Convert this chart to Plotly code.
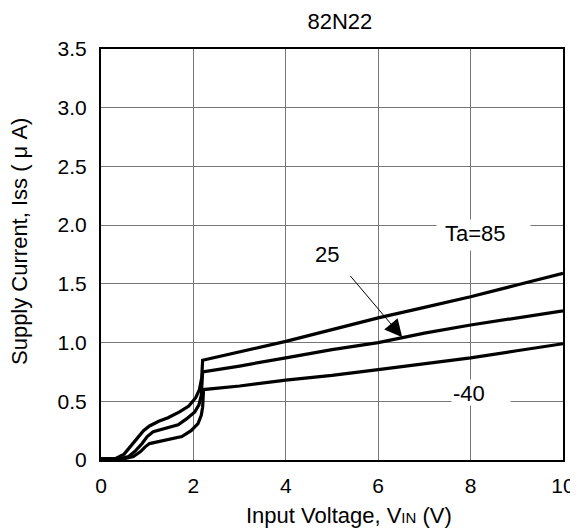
import plotly.graph_objects as go

# Data
vin_85 = [0, 0.3, 0.5, 0.65, 0.8, 0.92, 1.05, 1.25, 1.45, 1.7, 1.9, 2.05, 2.13, 2.18, 2.2,
          3, 4, 5, 6, 7, 8, 9, 10]
iss_85 = [0.01, 0.01, 0.05, 0.12, 0.19, 0.25, 0.29, 0.33, 0.36, 0.41, 0.46, 0.53, 0.60, 0.70, 0.85,
          0.92, 1.01, 1.11, 1.21, 1.30, 1.39, 1.49, 1.59]

vin_25 = [0, 0.4, 0.6, 0.75, 0.89, 1.0, 1.13, 1.3, 1.5, 1.67, 1.85, 2.03, 2.12, 2.17, 2.2,
          3, 4, 5, 6, 7, 8, 9, 10]
iss_25 = [0.01, 0.01, 0.03, 0.08, 0.14, 0.20, 0.24, 0.26, 0.28, 0.30, 0.35, 0.41, 0.47, 0.55, 0.75,
          0.80, 0.87, 0.94, 1.00, 1.08, 1.15, 1.21, 1.27]

vin_m40 = [0, 0.5, 0.7, 0.85, 0.95, 1.05, 1.17, 1.4, 1.6, 1.75, 1.95, 2.1, 2.17, 2.2, 2.22,
           3, 4, 5, 6, 7, 8, 9, 10]
iss_m40 = [0.01, 0.01, 0.03, 0.07, 0.11, 0.14, 0.15, 0.17, 0.19, 0.20, 0.25, 0.31, 0.38, 0.45, 0.60,
           0.63, 0.68, 0.72, 0.77, 0.82, 0.87, 0.93, 0.99]

x_ticks = [0, 2, 4, 6, 8, 10]
x_ticktext = ["0", "2", "4", "6", "8", "10"]
y_ticks = [0, 0.5, 1.0, 1.5, 2.0, 2.5, 3.0, 3.5]
y_ticktext = ["0", "0.5", "1.0", "1.5", "2.0", "2.5", "3.0", "3.5"]

FONT = "Liberation Sans, Arial, sans-serif"
TICK = 21
TXT = 22

fig = go.Figure()
for xs, ys in [(vin_85, iss_85), (vin_25, iss_25), (vin_m40, iss_m40)]:
    fig.add_trace(go.Scatter(x=xs, y=ys, mode="lines",
                             line=dict(color="black", width=3.2),
                             showlegend=False, hoverinfo="skip"))

# the page body adds an 8px offset, so the figure is 8px smaller than the window
fig.update_layout(
    width=570, height=524,
    margin=dict(l=93, r=15, t=41, b=72, autoexpand=False),
    paper_bgcolor="white", plot_bgcolor="white",
    font=dict(family=FONT, size=TICK, color="black"),
    title=dict(text="82N22", x=0.517, xref="paper", xanchor="center",
               y=0.975, yref="container", yanchor="middle",
               font=dict(family=FONT, size=TXT, color="black")),
    xaxis=dict(range=[0, 10], tickvals=x_ticks, ticktext=x_ticktext,
               showgrid=True, gridcolor="#777777", gridwidth=1,
               showline=True, linecolor="black", linewidth=2, mirror=True,
               zeroline=False, ticks="", tickfont=dict(size=TICK),
               ticklabelstandoff=6, automargin=False),
    yaxis=dict(range=[0, 3.5], tickvals=y_ticks, ticktext=y_ticktext,
               showgrid=True, gridcolor="#777777", gridwidth=1,
               showline=True, linecolor="black", linewidth=2, mirror=True,
               zeroline=False, ticks="", tickfont=dict(size=TICK),
               ticklabelstandoff=8, automargin=False),
)

# axis titles
fig.add_annotation(x=0.537, y=-0.136, xref="paper", yref="paper",
                   xanchor="center", yanchor="middle", showarrow=False,
                   text="Input Voltage, V<span style='font-size:15px'>IN</span> (V)",
                   font=dict(size=TXT))
fig.add_annotation(x=-0.1775, y=0.5328, xref="paper", yref="paper",
                   xanchor="center", yanchor="middle", showarrow=False,
                   textangle=-90, text="Supply Current, Iss ( μ A)",
                   font=dict(size=TXT))

# white gaps in the grid behind the labels
fig.add_annotation(x=8.28, y=1.913, xref="x", yref="y", text="", showarrow=False,
                   bgcolor="white", width=93, height=30, borderpad=0)
fig.add_annotation(x=8.225, y=0.574, xref="x", yref="y", text="", showarrow=False,
                   bgcolor="white", width=58, height=25, borderpad=0)

fig.add_annotation(x=8.1, y=1.93, xref="x", yref="y",
                   text="Ta=85", showarrow=False, font=dict(size=TXT))
fig.add_annotation(x=4.89, y=1.75, xref="x", yref="y",
                   text="25", showarrow=False, font=dict(size=TXT))
fig.add_annotation(x=6.52, y=1.045, ax=5.37, ay=1.58,
                   xref="x", yref="y", axref="x", ayref="y",
                   text="", showarrow=True, arrowhead=2, arrowsize=3.5,
                   arrowwidth=1, arrowcolor="black")
fig.add_annotation(x=7.97, y=0.57, xref="x", yref="y",
                   text="-40", showarrow=False, font=dict(size=TXT))

fig.write_html("out.html")
